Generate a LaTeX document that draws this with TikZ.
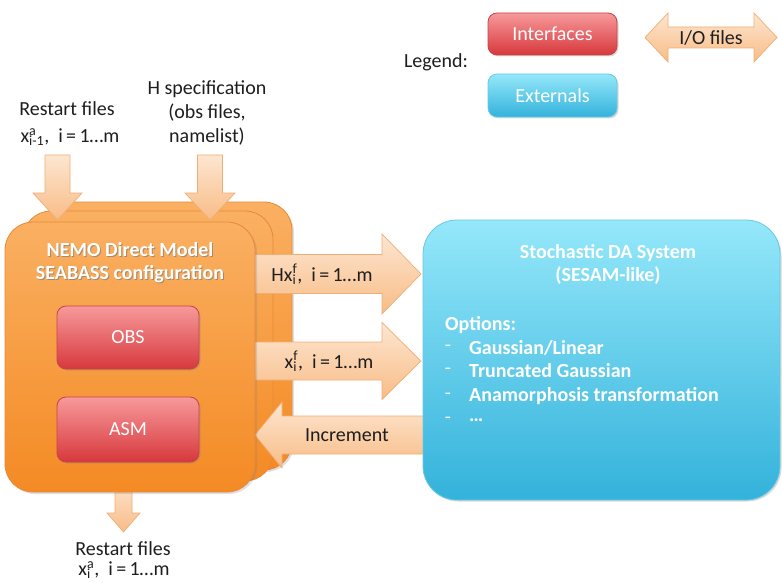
\documentclass[tikz,border=0pt]{standalone}
\usepackage{fontspec}
\setmainfont{Carlito}
\usetikzlibrary{shadows}
\definecolor{orangetop}{HTML}{FAB062}
\definecolor{orangebot}{HTML}{F48A24}
\definecolor{orangeedge}{HTML}{E8893A}
\definecolor{redtop}{HTML}{F7999B}
\definecolor{redbot}{HTML}{D7383C}
\definecolor{rededge}{HTML}{C44548}
\definecolor{bluetop}{HTML}{95E8FA}
\definecolor{bluebot}{HTML}{33B2DB}
\definecolor{blueedge}{HTML}{6BC8E3}
\definecolor{arrowtop}{HTML}{FDE6D1}
\definecolor{arrowbot}{HTML}{F8BC86}
\definecolor{arrowedge}{HTML}{F0AE74}
\definecolor{textdark}{HTML}{1E1E1E}
\newcommand\ssb[2]{\setbox0=\hbox{\textsuperscript{#1}}\setbox2=\hbox{\textsubscript{#2}}\ifdim\wd0>\wd2 \rlap{\box2}\box0\else\rlap{\box0}\box2\fi}
\begin{document}
\begin{tikzpicture}[x=1pt,y=-1pt,
  orangebox/.style={draw=orangeedge, line width=0.8pt, top color=orangetop, bottom color=orangebot, rounded corners=28pt},
  redbox/.style={draw=rededge, line width=0.8pt, top color=redtop, bottom color=redbot, rounded corners=9pt, text=white, font=\fontsize{20}{24}\selectfont, inner sep=0pt, drop shadow={opacity=0.3, shadow xshift=1.5pt, shadow yshift=-1.5pt}},
  bluebox/.style={draw=blueedge, line width=0.8pt, top color=bluetop, bottom color=bluebot, text=white, inner sep=0pt, drop shadow={opacity=0.3, shadow xshift=1.5pt, shadow yshift=-1.5pt}},
  blockarrow/.style={draw=arrowedge, line width=0.7pt, top color=arrowtop, bottom color=arrowbot},
  lab/.style={font=\fontsize{20}{24}\selectfont, text=textdark, align=center, inner sep=0pt},
  wlab/.style={font=\fontsize{20}{24}\selectfont\bfseries, text=white, inner sep=0pt},
  shadowlab/.style={font=\fontsize{20}{24}\selectfont\bfseries, text=black!55, inner sep=0pt, opacity=0.6}
]
\useasboundingbox (0,0) rectangle (782,583);

% ---------- Legend ----------
\node[lab] (legend) at (436,62) {Legend:};
\node[redbox, minimum width=129pt, minimum height=42pt] (iface) at (552.5,34) {Interfaces};
\node[bluebox, rounded corners=9pt, minimum width=129pt, minimum height=43pt, font=\fontsize{20}{24}\selectfont] (ext) at (552.5,95.5) {Externals};
\path[blockarrow] (645,37.5) -- (668,13) -- (668,27) -- (754,27) -- (754,13) -- (777,37.5)
  -- (754,62) -- (754,48) -- (668,48) -- (668,62) -- cycle;
\node[lab] (io) at (711,37.5) {I/O files};

% ---------- top labels ----------
\node[lab] (rs1) at (67,109) {Restart files};
\node[lab] (rs2) at (70,137) {x\ssb{a}{i-1}, \ i\,=\,1…m};
\node[lab] (h1) at (207,89) {H specification};
\node[lab] (h2) at (207,113) {(obs files,};
\node[lab] (h3) at (207,137) {namelist)};

% ---------- back layers ----------
\path[orangebox, drop shadow={opacity=0.25, shadow xshift=2pt, shadow yshift=-2pt}] (42,202) rectangle (292,470);
\path[orangebox] (23,211) rectangle (273,481);

% ---------- arrows to/from DA ----------
\path[blockarrow] (250,254.5) -- (382,254.5) -- (382,234) -- (421,274) -- (382,314) -- (382,293.5) -- (250,293.5) -- cycle;
\path[blockarrow] (250,342) -- (382,342) -- (382,322.5) -- (421,361) -- (382,399.5) -- (382,380) -- (250,380) -- cycle;
\path[blockarrow] (255,435) -- (282,402) -- (282,416) -- (440,416) -- (440,454) -- (282,454) -- (282,468) -- cycle;

% ---------- top input arrows ----------
\path[blockarrow] (45,155) -- (70,155) -- (70,193) -- (82,193) -- (57.5,220) -- (33,193) -- (45,193) -- cycle;
\path[blockarrow] (197.5,155) -- (222.5,155) -- (222.5,193) -- (235,193) -- (210,220) -- (185,193) -- (197.5,193) -- cycle;

% ---------- bottom output arrow ----------
\path[blockarrow] (115,480) -- (132,480) -- (132,513) -- (140,513) -- (123.5,532) -- (107,513) -- (115,513) -- cycle;

% ---------- front NEMO box ----------
\node[orangebox, minimum width=250pt, minimum height=270pt, inner sep=0pt, drop shadow={opacity=0.25, shadow xshift=2pt, shadow yshift=-2pt}] (nemo) at (130,357) {};
\node[shadowlab] at (131,251) {NEMO Direct Model};
\node[wlab] (nemot1) at (130,250) {NEMO Direct Model};
\node[shadowlab] at (131,275) {SEABASS configuration};
\node[wlab] (nemot2) at (130,274) {SEABASS configuration};
\node[redbox, minimum width=142pt, minimum height=63pt] (obs) at (128,337.5) {OBS};
\node[redbox, minimum width=142pt, minimum height=65pt] (asm) at (128,429.5) {ASM};

% ---------- arrow labels ----------
\node[lab] (hx) at (322,274) {Hx\ssb{f}{i}, \ i\,=\,1…m};
\node[lab] (xf) at (329,361) {x\ssb{f}{i}, \ i\,=\,1…m};
\node[lab] (inc) at (347,435) {Increment};

% ---------- DA system ----------
\node[bluebox, rounded corners=34pt, minimum width=357pt, minimum height=280pt] (da) at (601.5,360) {};
\node[wlab, align=center, font=\fontsize{20}{23}\selectfont\bfseries] (dat) at (608,264.5) {Stochastic DA System\\(SESAM-like)};
\node[wlab, anchor=west] (opt) at (445,325) {Options:};
\node[wlab, font=\fontsize{20}{24}\selectfont] (dash1) at (448,348) {-};
\node[wlab, anchor=west] (o1) at (469,348) {Gaussian/Linear};
\node[wlab, font=\fontsize{20}{24}\selectfont] (dash2) at (448,371) {-};
\node[wlab, anchor=west] (o2) at (469,371) {Truncated Gaussian};
\node[wlab, font=\fontsize{20}{24}\selectfont] (dash3) at (448,396) {-};
\node[wlab, anchor=west] (o3) at (469,396) {Anamorphosis transformation};
\node[wlab, font=\fontsize{20}{24}\selectfont] (dash4) at (448,420) {-};
\node[wlab, anchor=west] (o4) at (469,420) {…};

% ---------- bottom labels ----------
\node[lab] (rb1) at (123,549) {Restart files};
\node[lab] (rb2) at (124,570) {x\ssb{a}{i}, \ i\,=\,1…m};
\end{tikzpicture}
\end{document}
